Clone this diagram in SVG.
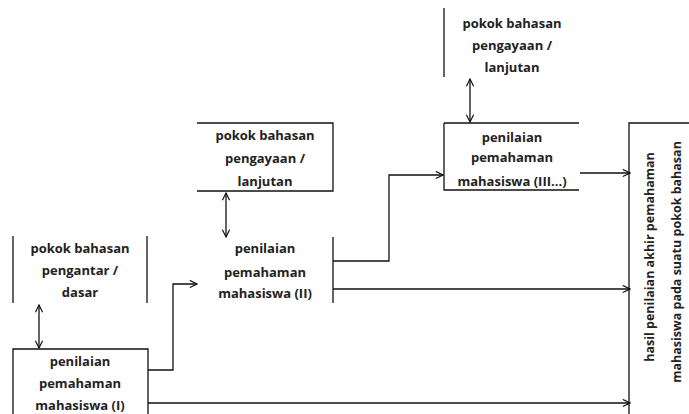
<svg xmlns="http://www.w3.org/2000/svg" width="689" height="414" viewBox="0 0 689 414">
<style>
text{font-family:"Open Sans","Liberation Sans",sans-serif;font-weight:bold;font-size:13px;fill:#222;text-anchor:middle}
.rot{font-size:12.5px}
.ln{stroke:#111;stroke-width:1.3;fill:none}
.c{stroke:#111;stroke-width:1.3;fill:none}
</style>
<defs>
<marker id="ah" viewBox="0 0 10 10" refX="9" refY="5" markerWidth="9" markerHeight="9" markerUnits="userSpaceOnUse" orient="auto-start-reverse">
<path d="M1,1 L9,5 L1,9" fill="none" stroke="#111" stroke-width="1.3"/>
</marker>
</defs>
<rect width="689" height="414" fill="#fff"/>
<g id="pokok1">
<line class="ln" x1="13" y1="236" x2="13" y2="303"/>
<line class="ln" x1="147" y1="236" x2="147" y2="303"/>
<text x="80" y="253">pokok bahasan</text>
<text x="80" y="275">pengantar /</text>
<text x="80" y="297">dasar</text>
</g>
<g id="nilai1">
<polyline class="ln" points="13,420 13,349 148,349 148,420"/>
<text x="80" y="366">penilaian</text>
<text x="80" y="388">pemahaman</text>
<text x="80" y="410">mahasiswa (I)</text>
</g>
<g id="pokok2">
<polyline class="ln" points="197,123 333,123 333,191 197,191"/>
<text x="265" y="140">pokok bahasan</text>
<text x="265" y="163">pengayaan /</text>
<text x="265" y="186">lanjutan</text>
</g>
<g id="nilai2">
<line class="ln" x1="333" y1="237" x2="333" y2="303"/>
<text x="265" y="253">penilaian</text>
<text x="265" y="277">pemahaman</text>
<text x="265" y="298">mahasiswa (II)</text>
</g>
<g id="pokok3">
<line class="ln" x1="444" y1="8" x2="444" y2="77"/>
<text x="512" y="28">pokok bahasan</text>
<text x="512" y="50">pengayaan /</text>
<text x="512" y="72">lanjutan</text>
</g>
<g id="nilai3">
<polyline class="ln" points="444,123 444,190 579,190"/>
<line class="ln" x1="444" y1="123" x2="579" y2="123"/>
<text x="512" y="142">penilaian</text>
<text x="512" y="162">pemahaman</text>
<text x="512" y="186">mahasiswa (III...)</text>
</g>
<g id="hasil">
<polyline class="ln" points="629,420 629,123 690,123"/>
<text class="rot" transform="translate(654,257) rotate(-90)">hasil penilaian akhir pemahaman</text>
<text class="rot" transform="translate(681,262) rotate(-90)">mahasiswa pada suatu pokok bahasan</text>
</g>
<g id="connectors">
<line class="c" x1="39" y1="305" x2="39" y2="348" marker-start="url(#ah)" marker-end="url(#ah)"/>
<line class="c" x1="226" y1="193" x2="226" y2="237" marker-start="url(#ah)" marker-end="url(#ah)"/>
<line class="c" x1="470" y1="79" x2="470" y2="122" marker-start="url(#ah)" marker-end="url(#ah)"/>
<polyline class="c" points="148,370 173,370 173,284 197,284" stroke-width="2" marker-end="url(#ah)"/>
<line class="c" x1="148" y1="403" x2="630" y2="403" marker-end="url(#ah)"/>
<polyline class="c" points="333,261 389,261 389,175 443,175" marker-end="url(#ah)"/>
<line class="c" x1="333" y1="289" x2="630" y2="289" marker-end="url(#ah)"/>
<line class="c" x1="580" y1="173" x2="630" y2="173" marker-end="url(#ah)"/>
</g>
</svg>
